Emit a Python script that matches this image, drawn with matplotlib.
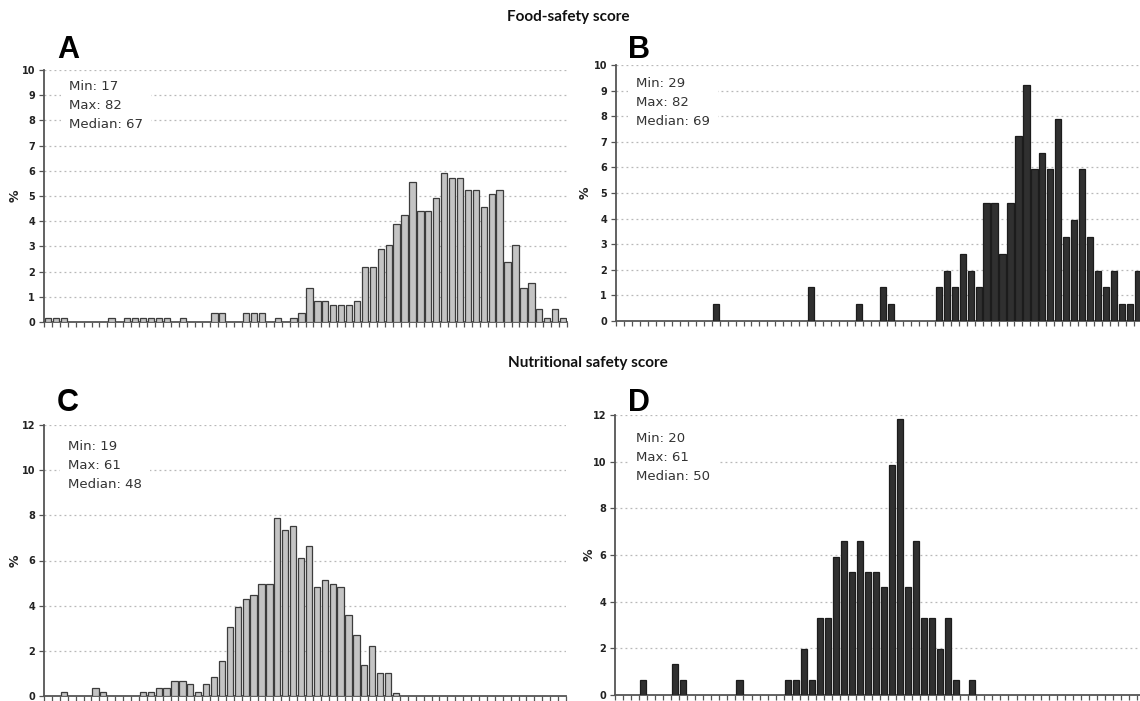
import numpy as np
import matplotlib
matplotlib.use("Agg")
import matplotlib.pyplot as plt

W, H = 1140, 701

# Score bins shared by all panels: integer scores 17..82
scores = list(range(17, 83))

# Panel A: food-safety score (light bars), % of respondents
food_A = {17: 0.17, 18: 0.17, 19: 0.17, 25: 0.17, 27: 0.17, 28: 0.17, 29: 0.17,
          30: 0.17, 31: 0.17, 32: 0.17, 34: 0.17, 38: 0.34, 39: 0.34, 42: 0.34,
          43: 0.34, 44: 0.34, 46: 0.17, 48: 0.17, 49: 0.34, 50: 1.36, 51: 0.85,
          52: 0.85, 53: 0.68, 54: 0.68, 55: 0.68, 56: 0.85, 57: 2.2, 58: 2.2,
          59: 2.9, 60: 3.06, 61: 3.87, 62: 4.24, 63: 5.55, 64: 4.41, 65: 4.41,
          66: 4.92, 67: 5.9, 68: 5.73, 69: 5.73, 70: 5.22, 71: 5.22, 72: 4.58,
          73: 5.06, 74: 5.24, 75: 2.38, 76: 3.06, 77: 1.36, 78: 1.53, 79: 0.51,
          80: 0.17, 81: 0.51, 82: 0.17}

# Panel B: food-safety score (dark bars)
food_B = {29: 0.66, 41: 1.32, 47: 0.66, 50: 1.32, 51: 0.66, 57: 1.32, 58: 1.97,
          59: 1.32, 60: 2.63, 61: 1.97, 62: 1.32, 63: 4.61, 64: 4.61, 65: 2.63,
          66: 4.61, 67: 7.24, 68: 9.21, 69: 5.92, 70: 6.58, 71: 5.92, 72: 7.89,
          73: 3.29, 74: 3.95, 75: 5.92, 76: 3.29, 77: 1.97, 78: 1.32, 79: 1.97,
          80: 0.66, 81: 0.66, 82: 1.97}

# Panel C: nutritional safety score (light bars)
nutr_C = {19: 0.17, 23: 0.34, 24: 0.17, 29: 0.17, 30: 0.17, 31: 0.34, 32: 0.34,
          33: 0.68, 34: 0.68, 35: 0.51, 36: 0.17, 37: 0.51, 38: 0.85, 39: 1.53,
          40: 3.07, 41: 3.96, 42: 4.31, 43: 4.46, 44: 4.96, 45: 4.96, 46: 7.87,
          47: 7.36, 48: 7.52, 49: 6.13, 50: 6.65, 51: 4.83, 52: 5.14, 53: 4.96,
          54: 4.83, 55: 3.59, 56: 2.72, 57: 1.36, 58: 2.2, 59: 1.02, 60: 1.02,
          61: 0.15}

# Panel D: nutritional safety score (dark bars)
nutr_D = {20: 0.66, 24: 1.32, 25: 0.66, 32: 0.66, 38: 0.66, 39: 0.66, 40: 1.97,
          41: 0.66, 42: 3.29, 43: 3.29, 44: 5.92, 45: 6.58, 46: 5.26, 47: 6.58,
          48: 5.26, 49: 5.26, 50: 4.61, 51: 9.87, 52: 11.84, 53: 4.61, 54: 6.58,
          55: 3.29, 56: 3.29, 57: 1.97, 58: 3.29, 59: 0.66, 61: 0.66}

stats_A = ["Min: 17", "Max: 82", "Median: 67"]
stats_B = ["Min: 29", "Max: 82", "Median: 69"]
stats_C = ["Min: 19", "Max: 61", "Median: 48"]
stats_D = ["Min: 20", "Max: 61", "Median: 50"]

title_top = "Food-safety score"
title_bottom = "Nutritional safety score"

LIGHT = "#c4c4c4"
LIGHT_EDGE = "#3c3c3c"
DARK = "#303030"
DARK_EDGE = "#1c1c1c"

fig = plt.figure(figsize=(W / 100, H / 100), dpi=100)
fig.patch.set_facecolor("white")


def px_axes(left, top, right, bottom):
    return fig.add_axes([left / W, 1 - bottom / H, (right - left) / W, (bottom - top) / H])


def draw_panel(ax, data, ymax, ystep, fc, ec, width, label_x_px, axes_left, axes_w):
    x = np.arange(len(scores))
    vals = np.array([data.get(s, 0.0) for s in scores])
    m = vals > 0
    ax.bar(x[m], vals[m], width=width, color=fc, edgecolor=ec, linewidth=0.9, zorder=3)
    ax.set_xlim(-0.5, len(scores) - 0.5)
    ax.set_ylim(0, ymax)
    yt = np.arange(0, ymax + 0.01, ystep)
    ax.set_yticks(yt)
    ax.set_yticklabels([f"{int(v)}" for v in yt], fontsize=7, fontweight="bold", color="#222222")
    ax.set_xticks(np.arange(len(scores) + 1) - 0.5)
    ax.set_xticklabels([])
    ax.tick_params(axis="x", length=3.5, width=0.9, color="#555555", direction="out")
    ax.tick_params(axis="y", length=3.5, width=0.9, color="#555555", direction="out", pad=3)
    for s in ("top", "right"):
        ax.spines[s].set_visible(False)
    for s in ("left", "bottom"):
        ax.spines[s].set_color("#555555")
        ax.spines[s].set_linewidth(1.3)
    ax.yaxis.grid(True, linestyle=(0, (1.5, 2.5)), color="#b8b8b8", linewidth=0.9, zorder=0)
    ax.set_axisbelow(True)
    ax.patch.set_alpha(0)
    ax.set_ylabel("%", fontsize=9, fontweight="bold", color="#222222")
    ax.yaxis.set_label_coords((label_x_px - axes_left) / axes_w, 0.5)


axA = px_axes(44, 70, 567, 322)
axB = px_axes(616, 65, 1142, 321)
axC = px_axes(44, 425, 566, 696)
axD = px_axes(615, 415, 1145, 695)

draw_panel(axA, food_A, 10, 1, LIGHT, LIGHT_EDGE, 0.8, 22, 44, 523)
draw_panel(axB, food_B, 10, 1, DARK, DARK_EDGE, 0.78, 592, 616, 526)
draw_panel(axC, nutr_C, 12, 2, LIGHT, LIGHT_EDGE, 0.8, 22, 44, 522)
draw_panel(axD, nutr_D, 12, 2, DARK, DARK_EDGE, 0.78, 596, 615, 530)


def stats_text(x, y, lines):
    fig.text(x / W, 1 - y / H, "\n".join(lines), fontsize=9.5, color="#333333",
             family="DejaVu Sans", va="top", ha="left", linespacing=1.6,
             bbox=dict(boxstyle="square,pad=0.6", facecolor="white", edgecolor="none"),
             zorder=5)


stats_text(69, 80, stats_A)
stats_text(636, 77, stats_B)
stats_text(68, 440, stats_C)
stats_text(636, 432, stats_D)

for lbl, x, y in (("A", 57, 58), ("B", 628, 58), ("C", 57, 411), ("D", 628, 411)):
    fig.text(x / W, 1 - y / H, lbl, fontsize=22, fontweight="bold",
             family="Liberation Sans", va="baseline", ha="left", color="#000000")

fig.text(568 / W, 1 - 17 / H, title_top, fontsize=11, fontweight="bold",
         family="Lato", ha="center", va="center", color="#111111")
fig.text(588 / W, 1 - 363 / H, title_bottom, fontsize=11, fontweight="bold",
         family="Lato", ha="center", va="center", color="#111111")

fig.savefig("out.png", dpi=100, facecolor="white")
